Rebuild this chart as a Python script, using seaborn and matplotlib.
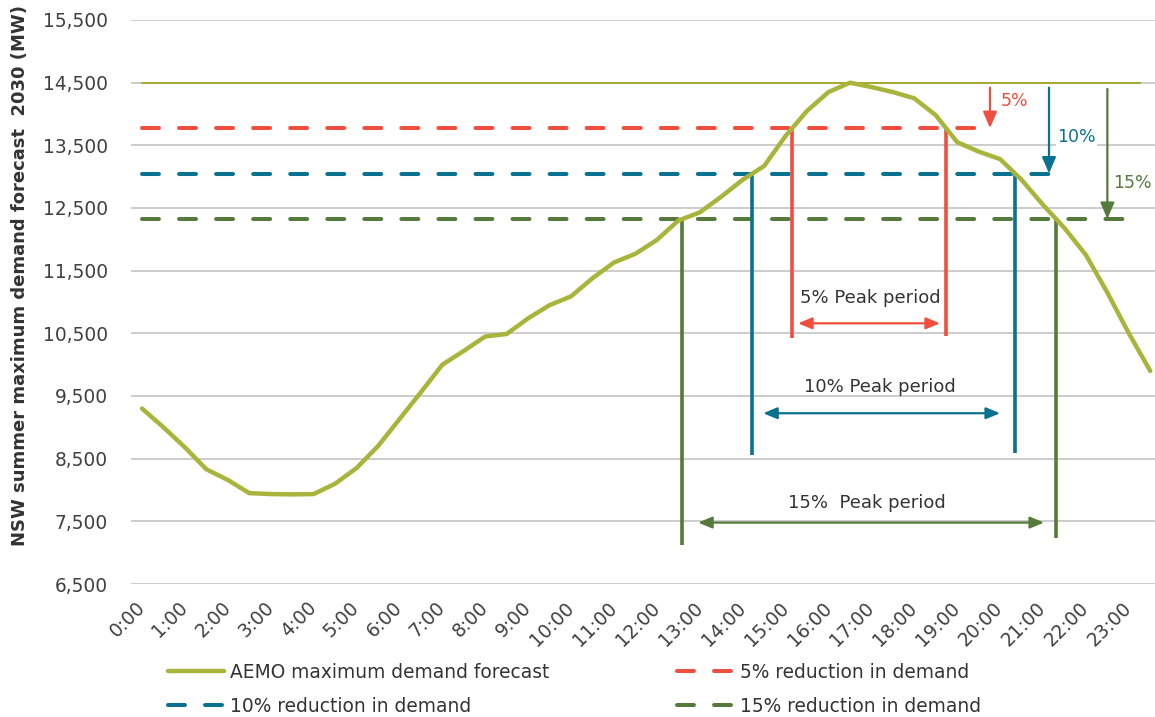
import matplotlib
matplotlib.use("Agg")
import matplotlib.pyplot as plt
import numpy as np
import pandas as pd
import seaborn as sns

# Half-hourly intervals across the day
intervals = [
    "0:00", "0:30", "1:00", "1:30", "2:00", "2:30", "3:00", "3:30",
    "4:00", "4:30", "5:00", "5:30", "6:00", "6:30", "7:00", "7:30",
    "8:00", "8:30", "9:00", "9:30", "10:00", "10:30", "11:00", "11:30",
    "12:00", "12:30", "13:00", "13:30", "14:00", "14:30", "15:00", "15:30",
    "16:00", "16:30", "17:00", "17:30", "18:00", "18:30", "19:00", "19:30",
    "20:00", "20:30", "21:00", "21:30", "22:00", "22:30", "23:00", "23:30",
]
hour_labels = [
    "0:00", "1:00", "2:00", "3:00", "4:00", "5:00", "6:00", "7:00",
    "8:00", "9:00", "10:00", "11:00", "12:00", "13:00", "14:00", "15:00",
    "16:00", "17:00", "18:00", "19:00", "20:00", "21:00", "22:00", "23:00",
]

# AEMO NSW summer maximum demand forecast for 2030 (MW)
demand_mw = [
    9300, 9000, 8680, 8330, 8160, 7950, 7935, 7930,
    7935, 8100, 8350, 8700, 9130, 9560, 10000, 10220,
    10450, 10490, 10740, 10950, 11090, 11380, 11630, 11770,
    11990, 12300, 12430, 12680, 12950, 13170, 13650, 14050,
    14350, 14500, 14430, 14350, 14250, 13980, 13550, 13400,
    13280, 12950, 12550, 12180, 11750, 11150, 10500, 9900,
]

reduction_shares = [0.05, 0.10, 0.15]
reduction_tags = ["5%", "10%", "15%"]
series_names = [
    "AEMO maximum demand forecast",
    "5% reduction in demand",
    "10% reduction in demand",
    "15% reduction in demand",
]
period_names = ["5% Peak period", "10% Peak period", "15%  Peak period"]

# Lower ends of the peak-window markers (MW)
marker_bottoms = [(10430, 10460), (8560, 8585), (7120, 7230)]
# Height of each peak-period span arrow (MW)
span_levels = [10660, 9225, 7480]

# Styling
C_DEMAND = "#a9b43a"
C_PEAK = "#a6a82c"
C_LEVELS = ["#f04f3f", "#0a7190", "#557a3c"]
C_TEXT = "#333333"
C_TICK = "#404040"
C_GRID = "#c3c3c3"

sns.set_style("white")
plt.rcParams["font.family"] = ["DejaVu Sans"]

fig = plt.figure(figsize=(11.55, 7.17), dpi=100)
ax = fig.add_axes([131.3 / 1155, 1 - 584 / 717, (1161 - 131.3) / 1155, 564 / 717])

df = pd.DataFrame({"slot": np.arange(len(intervals)), "interval": intervals, "demand": demand_mw})

peak = max(demand_mw)
levels = [peak * (1 - s) for s in reduction_shares]


def crossings(values, level):
    """Fractional slot positions where the curve passes through a level."""
    pts = []
    for i in range(len(values) - 1):
        a, b = values[i], values[i + 1]
        if (a - level) * (b - level) < 0:
            pts.append(i + (level - a) / (b - a))
    return pts


# Peak demand reference line
ax.plot([0, 46.5], [peak, peak], color=C_PEAK, lw=1.4, zorder=3)

# Reduced-demand thresholds
level_ends = [39.6, 42.9, 46.3]
level_handles = []
for lvl, end, col, name in zip(levels, level_ends, C_LEVELS, series_names[1:]):
    (h,) = ax.plot([0, end], [lvl, lvl], color=col, lw=2.9,
                   linestyle=(0, (4.2, 5.0)), dash_capstyle="round",
                   solid_capstyle="round", label=name, zorder=4)
    level_handles.append(h)

# Demand curve
sns.lineplot(data=df, x="slot", y="demand", ax=ax, color=C_DEMAND, lw=3.2,
             label=series_names[0], zorder=6, legend=False)
demand_handle = ax.lines[-1]

# Peak windows: vertical markers and span arrows
insets = [(0.27, 0.28), (0.5, 0.7), (0.73, 0.56)]
period_text_pos = [(33.94, 11064), (34.4, 9644), (33.8, 7793)]
for lvl, col, bottoms, y_span, ins, name, tpos in zip(
        levels, C_LEVELS, marker_bottoms, span_levels, insets, period_names, period_text_pos):
    x_in, x_out = crossings(demand_mw, lvl)
    ax.vlines([x_in, x_out], [bottoms[0], bottoms[1]], [lvl, lvl], color=col, lw=2.6, zorder=5)
    ax.annotate("", xy=(x_out - ins[1], y_span), xytext=(x_in + ins[0], y_span),
                arrowprops=dict(arrowstyle="<|-|>,head_length=0.6,head_width=0.25",
                                mutation_scale=14, color=col, lw=1.6,
                                shrinkA=0, shrinkB=0), zorder=5)
    ax.text(tpos[0], tpos[1], name, ha="center", va="center", fontsize=13, color=C_TEXT, zorder=7)

# Reduction arrows from the peak down to each threshold
drop_x = [39.53, 42.28, 45.0]
drop_top = [14420, 14420, 14400]
tag_pos = [(40.05, 14207), (42.66, 13633), (45.27, 12899)]
for lvl, col, x, top, tag, tp in zip(levels, C_LEVELS, drop_x, drop_top, reduction_tags, tag_pos):
    ax.annotate("", xy=(x, lvl), xytext=(x, top),
                arrowprops=dict(arrowstyle="-|>,head_length=0.7,head_width=0.3",
                                mutation_scale=14, color=col, lw=1.6,
                                shrinkA=0, shrinkB=0), zorder=5)
    ax.text(tp[0], tp[1], tag, ha="left", va="center", fontsize=12.5, color=col, zorder=7,
            bbox=dict(facecolor="white", edgecolor="none", pad=1.0))

# Axes, grid and ticks
ax.set_xlim(-0.5, 47.5)
ax.set_ylim(6500, 15500)
ax.set_yticks(np.arange(6500, 15501, 1000))
ax.yaxis.set_major_formatter(matplotlib.ticker.FuncFormatter(lambda v, _: f"{v:,.0f}"))
ax.set_xticks(np.arange(0, len(intervals), 2))
ax.set_xticklabels(hour_labels, rotation=45, ha="right", va="center", rotation_mode="anchor")
ax.tick_params(axis="both", length=0, labelsize=13.4, labelcolor=C_TICK)
ax.tick_params(axis="y", pad=17)
ax.tick_params(axis="x", pad=15)
ax.grid(axis="y", color=C_GRID, lw=1.2, zorder=0)
ax.grid(axis="x", visible=False)
ax.set_axisbelow(True)
for s in ax.spines.values():
    s.set_visible(False)
ax.set_xlabel("")
ax.set_ylabel("NSW summer maximum demand forecast  2030 (MW)", fontsize=13,
              fontweight="bold", color=C_TEXT, va="center")
ax.yaxis.set_label_coords((20.5 - 131.3) / 1029.7, (584 - 276) / 564)

# Legend: two columns, demand + 10% in the first, 5% + 15% in the second
handles = [demand_handle, level_handles[1], level_handles[0], level_handles[2]]
labels = [series_names[0], series_names[2], series_names[1], series_names[3]]
fig.legend(handles, labels, ncol=2, loc="upper left",
           bbox_to_anchor=(168 / 1155, 1 - 663 / 717), frameon=False,
           fontsize=13.4, handlelength=3.0, handletextpad=0.35,
           columnspacing=6.85, labelspacing=0.78, borderpad=0, borderaxespad=0,
           labelcolor=C_TEXT)

fig.savefig("out.png", dpi=100)
